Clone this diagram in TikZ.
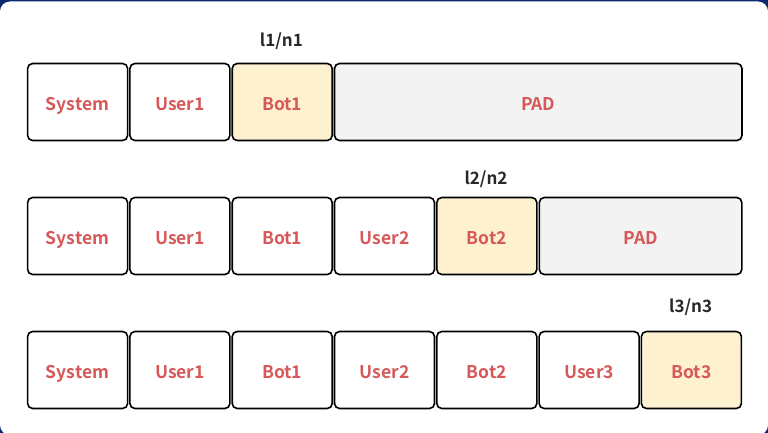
\documentclass[tikz,border=0pt]{standalone}
\usepackage{fontspec}
\setmainfont{Noto Sans CJK SC}[BoldFont={Noto Sans CJK SC Bold}]
\begin{document}
\begin{tikzpicture}[x=1pt,y=-1pt,
  cell/.style={draw=black,line width=1.6pt,rounded corners=5pt,minimum height=77pt,
    font=\bfseries\fontsize{17.5}{20}\selectfont,text=tokred,inner sep=0pt,anchor=west,
    text height=16.5pt,text depth=0pt},
  plain/.style={cell,fill=white},
  hl/.style={cell,fill=tokyel},
  pad/.style={cell,fill=padgray},
  tag/.style={font=\bfseries\fontsize{17}{20}\selectfont,text=tagdark,inner sep=0pt,
    text height=12.6pt,text depth=0pt}]
\definecolor{tokred}{RGB}{214,88,88}
\definecolor{tokyel}{RGB}{253,241,207}
\definecolor{padgray}{RGB}{243,243,243}
\definecolor{tagdark}{RGB}{40,40,40}
\definecolor{navy}{RGB}{12,40,110}
\useasboundingbox (0,0) rectangle (768,433);
\fill[navy] (0,0) rectangle (768,433);
\fill[white,rounded corners=10pt] (0,1.5) rectangle (768,435);
\fill[white] (0,20) rectangle (768,420);
% row 1
\node[plain,minimum width=100pt] (a1) at (26.8,102) {System};
\node[plain,minimum width=100pt] (a2) at (129.1,102) {User1};
\node[hl,minimum width=100pt] (a3) at (231.4,102) {Bot1};
\node[pad,minimum width=407.5pt] (a4) at (333.7,102) {PAD};
\node[tag] (t1) at (281.4,40) {l1/n1};
% row 2
\node[plain,minimum width=100pt] (b1) at (26.8,236) {System};
\node[plain,minimum width=100pt] (b2) at (129.1,236) {User1};
\node[plain,minimum width=100pt] (b3) at (231.4,236) {Bot1};
\node[plain,minimum width=100pt] (b4) at (333.7,236) {User2};
\node[hl,minimum width=100pt] (b5) at (436.0,236) {Bot2};
\node[pad,minimum width=202.5pt] (b6) at (538.5,236) {PAD};
\node[tag] (t2) at (486.0,178) {l2/n2};
% row 3
\node[plain,minimum width=100pt] (c1) at (26.8,370) {System};
\node[plain,minimum width=100pt] (c2) at (129.1,370) {User1};
\node[plain,minimum width=100pt] (c3) at (231.4,370) {Bot1};
\node[plain,minimum width=100pt] (c4) at (333.7,370) {User2};
\node[plain,minimum width=100pt] (c5) at (436.0,370) {Bot2};
\node[plain,minimum width=100pt] (c6) at (538.3,370) {User3};
\node[hl,minimum width=100pt] (c7) at (640.6,370) {Bot3};
\node[tag] (t3) at (690.6,306) {l3/n3};
\end{tikzpicture}
\end{document}
